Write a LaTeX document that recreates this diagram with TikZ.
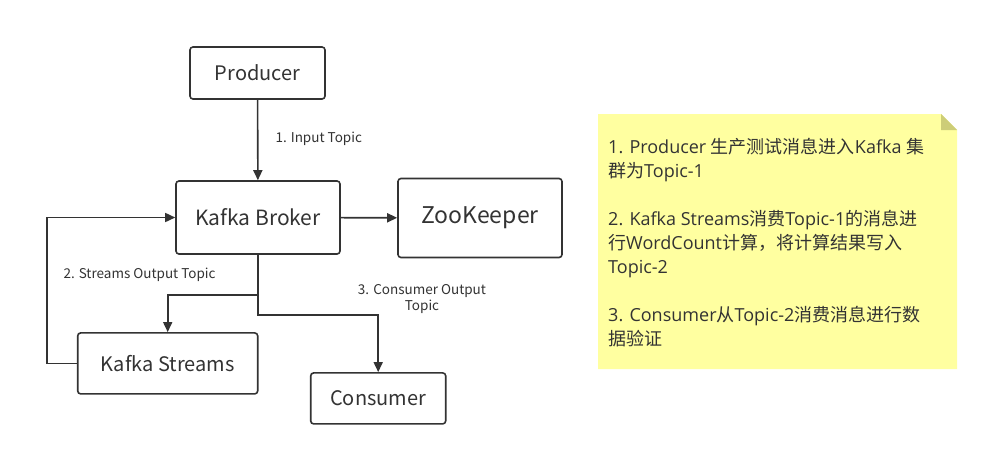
\documentclass[tikz,border=0pt]{standalone}
\usepackage{fontspec}
\setmainfont{Noto Sans CJK SC}
\newfontfamily\latin{Open Sans}
\usetikzlibrary{arrows.meta}

\definecolor{ink}{HTML}{333333}
\definecolor{notefill}{RGB}{255,255,160}
\definecolor{notefold}{RGB}{205,205,120}

\begin{document}
\begin{tikzpicture}[x=1pt, y=-1pt,
    box/.style={draw=ink, line width=1.6pt, rounded corners=3pt, text=ink, font=\fontsize{20}{24}\selectfont},
    flow/.style={draw=ink, line width=1.6pt, -{Triangle[length=10pt,width=9pt]}},
    edgetext/.style={text=ink, font=\fontsize{13.5}{16}\selectfont}]
    \useasboundingbox[fill=white] (0,0) rectangle (988,456);

    % Draw Boxes
    \node[box, minimum width=135pt, minimum height=52pt] (Producer) at (257.5,73) {Producer};
    \node[box, minimum width=164pt, minimum height=73pt, font=\fontsize{21}{25}\selectfont] (Broker) at (258,217.5) {Kafka Broker};
    \node[box, minimum width=164pt, minimum height=79pt, font=\fontsize{23}{27}\selectfont] (ZooKeeper) at (480,218) {ZooKeeper};
    \node[box, minimum width=180pt, minimum height=61pt] (Streams) at (167.7,363.4) {Kafka Streams};
    \node[box, minimum width=135pt, minimum height=51pt] (Consumer) at (378.2,398.4) {Consumer};

    % Draw Connectors
    \draw[flow] (Producer) -- (Broker);
    \draw[flow] (Broker) -- (ZooKeeper);
    \draw[flow] (Streams.west) -- ++(-30,0) |- (Broker.west);
    \draw[flow] (Broker.south) -- ++(0,40) -| (Streams.north);
    \draw[flow] (Broker.south) -- ++(0,60) -| (Consumer.north);

    % Connector Labels
    \node[edgetext, anchor=west] (in) at (272,139) {1. Input Topic};
    \node[edgetext, anchor=west] (so) at (60,275) {2. Streams Output Topic};
    \node[edgetext, align=center] (co) at (422,299) {3. Consumer Output\\Topic};

    % Note
    \fill[notefill] (598,114) -- (941,114) -- (957,130) -- (957,369) -- (598,369) -- cycle;
    \fill[notefold] (941,114) -- (941,130) -- (957,130) -- cycle;
    \node[anchor=north west, align=left, inner sep=0pt, text=ink,
          font=\fontsize{18}{24}\selectfont] (note) at (608,138)
        {{\latin 1. Producer }生产测试消息进入{\latin Kafka }集\\
         群为{\latin Topic-1}\\[24pt]
         {\latin 2. Kafka Streams}消费{\latin Topic-1}的消息进\\
         行{\latin WordCount}计算，将计算结果写入\\
         {\latin Topic-2}\\[24pt]
         {\latin 3. Consumer}从{\latin Topic-2}消费消息进行数\\
         据验证};
\end{tikzpicture}
\end{document}
